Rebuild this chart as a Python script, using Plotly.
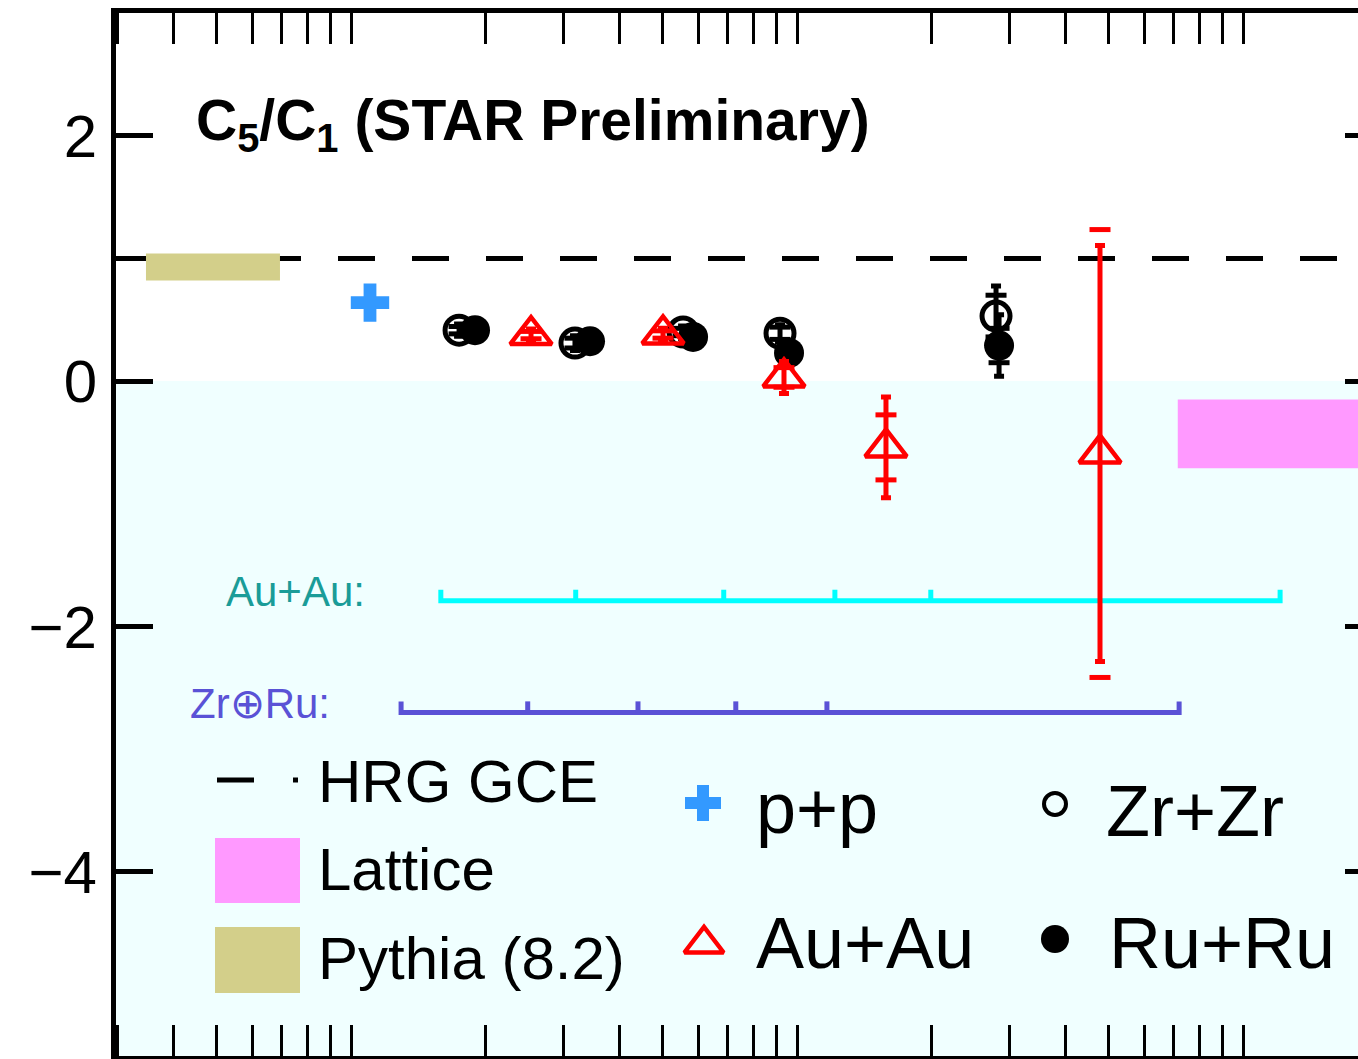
import plotly.graph_objects as go

# ---------------- data ----------------
pp_x = [11.03]
pp_y = [0.64]

zrzr_x = [17.47, 31.78, 55.53, 91.6, 279.4]
zrzr_y = [0.415, 0.31, 0.40, 0.39, 0.53]
zrzr_stat = [0.05, 0.06, 0.05, 0.07, 0.245]
zrzr_sys = [0.03, 0.04, 0.03, 0.05, 0.17]

ruru_x = [18.97, 34.35, 58.47, 95.96, 283.8]
ruru_y = [0.415, 0.325, 0.36, 0.23, 0.29]
ruru_stat = [0.05, 0.05, 0.05, 0.06, 0.25]
ruru_sys = [0.03, 0.03, 0.03, 0.04, 0.14]

auau_x = [25.33, 50.07, 93.5, 158.3, 477.9]
auau_y = [0.375, 0.38, 0.03, -0.54, -0.59]
auau_stat = [0.05, 0.05, 0.13, 0.41, 1.695]
auau_sys = [0.03, 0.03, 0.08, 0.265, 1.825]

# model references
hrg_value = 1.0
lattice_x = [714.0, 3000.0]
lattice_y = [-0.71, -0.15]
pythia_x = [3.47, 6.93]
pythia_y = [0.82, 1.04]

# centrality-class boundaries
auau_edges = [15.9, 31.9, 68.5, 121.6, 199.5, 1211.0]
zrru_edges = [12.95, 24.9, 44.0, 72.9, 116.7, 719.0]
auau_bracket_level = -1.79
zrru_bracket_level = -2.70
bracket_tick = 0.09

y_ticks = [-4, -2, 0, 2]
x_major = [10, 100, 1000]

# ---------------- layout geometry ----------------
W, H = 1358, 1059
ML, MR, MT, MB = 116, 0, 13, 3
PW, PH = W - ML - MR, H - MT - MB
XLOG_RANGE = [0.4731, 3.2578]
Y_RANGE = [-5.5, 3.0]


def fx(px):
    return (px - ML) / PW


def fy(py):
    return (H - MB - py) / PH


FONT = "Liberation Sans, Arial, Helvetica, sans-serif"
BLUE = "#3399FF"
RED = "#FF0000"

fig = go.Figure()

# HRG GCE baseline
fig.add_trace(go.Scatter(
    x=[10 ** XLOG_RANGE[0], 10 ** XLOG_RANGE[1]], y=[hrg_value, hrg_value],
    mode="lines", line=dict(color="black", width=5, dash="37px,37px"),
    hoverinfo="skip", showlegend=False))

# Pythia band
fig.add_trace(go.Scatter(
    x=[pythia_x[0], pythia_x[1], pythia_x[1], pythia_x[0], pythia_x[0]],
    y=[pythia_y[0], pythia_y[0], pythia_y[1], pythia_y[1], pythia_y[0]],
    mode="lines", fill="toself", fillcolor="#D3CF8A",
    line=dict(width=0, color="#D3CF8A"), hoverinfo="skip", showlegend=False))

# Lattice band
fig.add_trace(go.Scatter(
    x=[lattice_x[0], lattice_x[1], lattice_x[1], lattice_x[0], lattice_x[0]],
    y=[lattice_y[0], lattice_y[0], lattice_y[1], lattice_y[1], lattice_y[0]],
    mode="lines", fill="toself", fillcolor="#FF99FF",
    line=dict(width=0, color="#FF99FF"), hoverinfo="skip", showlegend=False))


def bracket(edges, level, color):
    xs = [edges[0], edges[0], edges[-1], edges[-1], None]
    ys = [level + bracket_tick, level, level, level + bracket_tick, None]
    for e in edges[1:-1]:
        xs += [e, e, None]
        ys += [level, level + bracket_tick, None]
    return go.Scatter(x=xs, y=ys, mode="lines",
                      line=dict(color=color, width=5),
                      hoverinfo="skip", showlegend=False)


fig.add_trace(bracket(auau_edges, auau_bracket_level, "#00FFFF"))
fig.add_trace(bracket(zrru_edges, zrru_bracket_level, "#5A52D6"))


def series(xs, ys, stat, sys_, color, symbol, size, lw, fill=None):
    traces = []
    # systematic boxes
    traces.append(go.Scatter(
        x=xs + xs, y=[y + s for y, s in zip(ys, sys_)] + [y - s for y, s in zip(ys, sys_)],
        mode="markers",
        marker=dict(symbol="line-ew", size=15, line=dict(color=color, width=5)),
        hoverinfo="skip", showlegend=False))
    traces.append(go.Scatter(
        x=xs, y=ys, mode="markers",
        error_y=dict(type="data", array=stat, color=color, thickness=5, width=5),
        marker=dict(symbol=symbol, size=size,
                    color=fill if fill else color,
                    line=dict(color=color, width=lw)),
        showlegend=False))
    return traces


for t in series(zrzr_x, zrzr_y, zrzr_stat, zrzr_sys, "black", "circle-open", 28, 5):
    fig.add_trace(t)
for t in series(ruru_x, ruru_y, ruru_stat, ruru_sys, "black", "circle", 30, 0):
    fig.add_trace(t)
for t in series(auau_x, auau_y, auau_stat, auau_sys, RED, "triangle-up-open", 36, 4.5):
    fig.add_trace(t)

fig.add_trace(go.Scatter(
    x=pp_x, y=pp_y, mode="markers",
    marker=dict(symbol="cross", size=32, color=BLUE, line=dict(width=0)),
    showlegend=False))

# right-hand tick marks
fig.add_trace(go.Scatter(x=[pp_x[0]], y=[pp_y[0]], yaxis="y3", mode="markers",
                         marker=dict(opacity=0), hoverinfo="skip", showlegend=False))

# legend symbols (overlay axes in 0..1 units)
legend_marks = [
    (fx(703), fy(803), "cross", 30, BLUE, 0, BLUE),
    (fx(704), fy(944), "triangle-up-open", 34, RED, 4.5, RED),
    (fx(1055), fy(804), "circle-open", 22, "black", 4, "black"),
    (fx(1055), fy(939), "circle", 28, "black", 0, "black"),
]
for lx, ly, sym, sz, col, lw, lc in legend_marks:
    fig.add_trace(go.Scatter(
        x=[lx], y=[ly], xaxis="x2", yaxis="y2", mode="markers",
        marker=dict(symbol=sym, size=sz, color=col, line=dict(color=lc, width=lw)),
        hoverinfo="skip", showlegend=False))

shapes = [
    # light background below zero
    dict(type="rect", xref="paper", yref="y", x0=0, x1=1, y0=Y_RANGE[0], y1=0,
         fillcolor="#F0FFFF", line=dict(width=0), layer="below"),
    # HRG legend symbol
    dict(type="line", xref="paper", yref="paper", x0=fx(217), x1=fx(254),
         y0=fy(780), y1=fy(780), line=dict(color="black", width=5)),
    dict(type="rect", xref="paper", yref="paper", x0=fx(293), x1=fx(298),
         y0=fy(782.5), y1=fy(777.5), fillcolor="black", line=dict(width=0)),
    # Lattice / Pythia swatches
    dict(type="rect", xref="paper", yref="paper", x0=fx(215), x1=fx(300),
         y0=fy(903), y1=fy(838), fillcolor="#FF99FF", line=dict(width=0)),
    dict(type="rect", xref="paper", yref="paper", x0=fx(215), x1=fx(300),
         y0=fy(993), y1=fy(927), fillcolor="#D3CF8A", line=dict(width=0)),
]


def ann(text, px, py, size, color="black", bold=False, xanchor="left"):
    return dict(text=f"<b>{text}</b>" if bold else text, x=fx(px), y=fy(py),
                xref="paper", yref="paper", xanchor=xanchor, yanchor="middle",
                showarrow=False, font=dict(family=FONT, size=size, color=color))


annotations = [
    ann("C<sub>5</sub>/C<sub>1</sub> (STAR Preliminary)", 194, 124, 57, bold=True),
    ann("Au+Au:", 224, 592, 42, color="#1A9C98"),
    ann("Zr⊕Ru:", 188, 703, 42, color="#5A52D6"),
    ann("HRG GCE", 316, 781, 60),
    ann("Lattice", 316, 869, 60),
    ann("Pythia (8.2)", 316, 958, 60),
    ann("p+p", 754, 808, 72),
    ann("Au+Au", 754, 943, 72),
    ann("Zr+Zr", 1104, 811, 72),
    ann("Ru+Ru", 1107, 943, 72),
]

minor_x = [k * 10 ** d for d in range(0, 4) for k in range(2, 10)]

fig.update_layout(
    width=W, height=H,
    margin=dict(l=ML, r=MR, t=MT, b=MB, pad=0),
    paper_bgcolor="white", plot_bgcolor="white",
    showlegend=False,
    font=dict(family=FONT, color="black"),
    xaxis=dict(type="log", range=XLOG_RANGE, showgrid=False, zeroline=False,
               showline=True, linecolor="black", linewidth=5, mirror="allticks",
               ticks="inside", ticklen=31, tickwidth=3, tickcolor="black",
               tickvals=x_major, showticklabels=False,
               minor=dict(tickvals=minor_x, ticks="inside", ticklen=15,
                          tickwidth=3, tickcolor="black", showgrid=False)),
    yaxis=dict(range=Y_RANGE, showgrid=False, zeroline=False,
               showline=True, linecolor="black", linewidth=5, mirror=False,
               ticks="inside", ticklen=37, tickwidth=5, tickcolor="black",
               tickvals=y_ticks, tickfont=dict(size=60, family=FONT),
               ticklabelstandoff=2),
    xaxis2=dict(overlaying="x", range=[0, 1], visible=False),
    yaxis2=dict(overlaying="y", range=[0, 1], visible=False),
    yaxis3=dict(overlaying="y", side="right", anchor="x", range=Y_RANGE,
                showgrid=False, zeroline=False, showline=False,
                ticks="inside", ticklen=13, tickwidth=5, tickcolor="black",
                tickvals=y_ticks, showticklabels=False),
    shapes=shapes,
    annotations=annotations,
)

fig.write_html("out.html")
